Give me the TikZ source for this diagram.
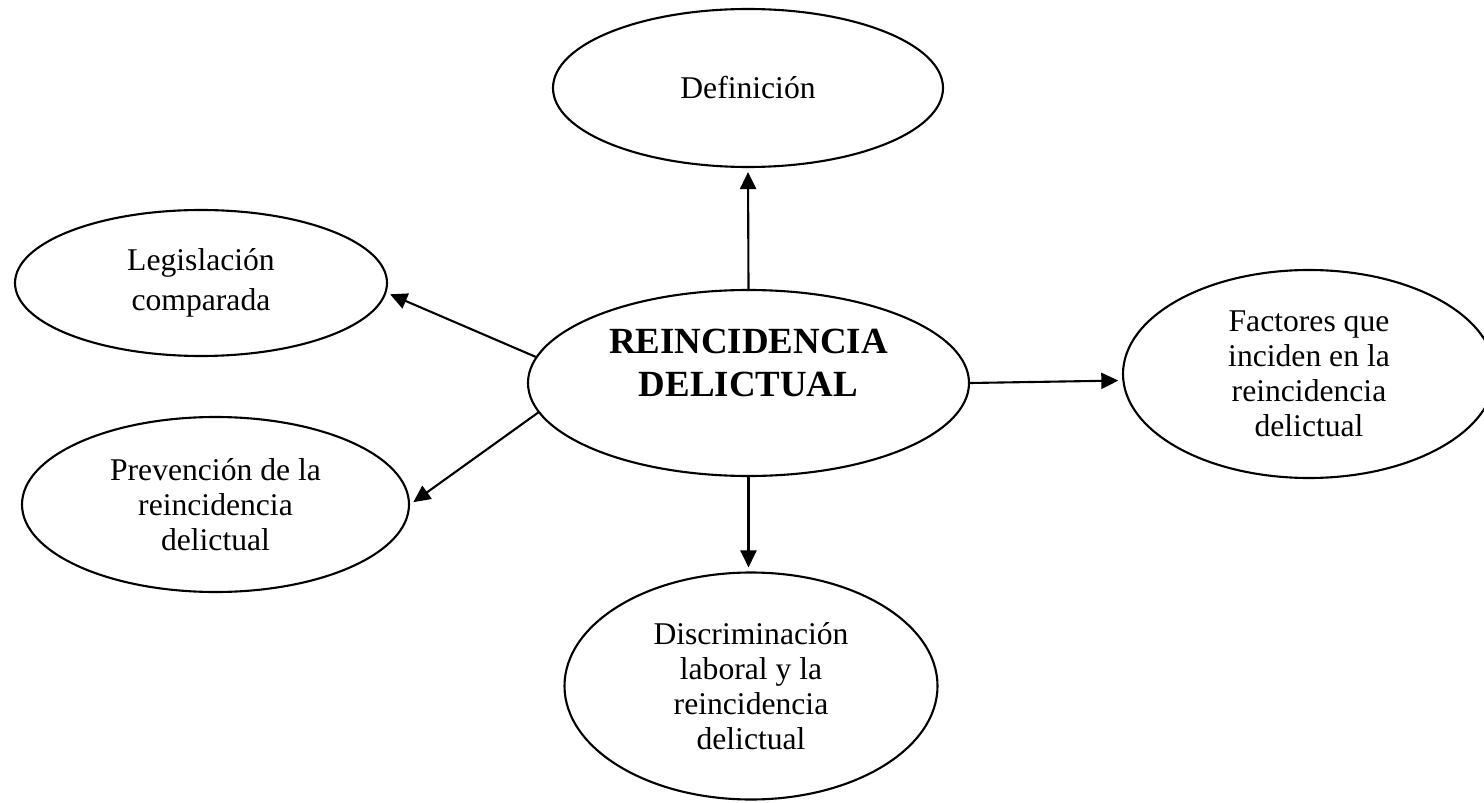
\documentclass[tikz,border=0pt]{standalone}
\usepackage{fontspec}
\setmainfont{Liberation Serif}
\usetikzlibrary{shapes.geometric,arrows.meta}

\begin{document}
\begin{tikzpicture}[
  bubble/.style={ellipse,draw,line width=1.2pt,align=center,inner sep=0pt,
    font=\fontsize{18}{20}\selectfont},
  link/.style={line width=1.2pt,-{Triangle[length=0.34cm,width=0.32cm]},shorten >=0.08cm}
]

\useasboundingbox (0,0) rectangle (29.68,16.04);

\node[bubble,minimum width=8.82cm,minimum height=3.72cm] (c) at (14.97,8.38) {};
\node[font=\bfseries\fontsize{21}{24.5}\selectfont,align=center] (ctext) at (14.97,8.78) {REINCIDENCIA\\DELICTUAL};

\node[bubble,minimum width=7.80cm,minimum height=3.16cm] (def) at (14.96,14.28) {Definición};
\node[bubble,minimum width=7.44cm,minimum height=2.92cm,font=\fontsize{18}{23}\selectfont] (leg) at (4.02,10.38) {Legislación\\comparada};
\node[bubble,minimum width=7.44cm,minimum height=4.16cm] (fac) at (26.18,8.56) {Factores que\\inciden en la\\reincidencia\\delictual};
\node[bubble,minimum width=7.74cm,minimum height=3.50cm] (prev) at (4.31,5.95) {Prevención de la\\reincidencia\\delictual};
\node[bubble,minimum width=7.46cm,minimum height=4.54cm] (disc) at (15.02,2.32) {Discriminación\\laboral y la\\reincidencia\\delictual};

\draw[link] (c.north) -- (def.south);
\draw[link] (c.173) -- (leg.357);
\draw[link] (c.188) -- (prev.east);
\draw[link] (c.east) -- (fac.182);
\draw[link] (c.south) -- (c.south |- disc.north);

\end{tikzpicture}
\end{document}
